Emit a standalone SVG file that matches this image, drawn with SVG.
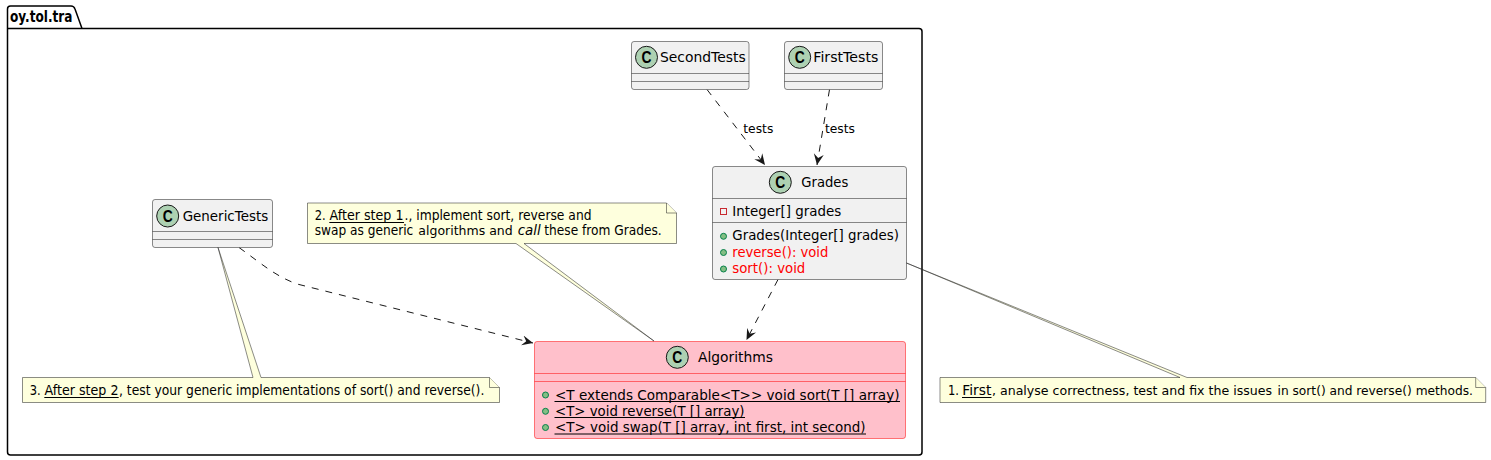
<svg xmlns="http://www.w3.org/2000/svg" width="1491" height="460" viewBox="0 0 1491 460">
<style>
text{font-family:"DejaVu Sans","Liberation Sans",sans-serif;font-size:14px;fill:#000}
.box{fill:#F1F1F1;stroke:#181818;stroke-width:.5}
.pink{fill:#FFC0CB;stroke:#FF0000}
.sep{stroke:#181818;stroke-width:.5;fill:none}
.sepr{stroke:#FF0000;stroke-width:.5;fill:none}
.ci{fill:#ADD1B2;stroke:#181818;stroke-width:1}
.c{font-family:"Liberation Sans",sans-serif;font-weight:700;font-size:16px;text-anchor:middle}
.pub{fill:#84BE84;stroke:#038048;stroke-width:1}
.note{fill:#FEFFDD;stroke:#181818;stroke-width:.5}
.dep{fill:none;stroke:#181818;stroke-width:1;stroke-dasharray:7 7;marker-end:url(#arrow)}
.red{fill:#FF0000}
.ul{stroke:#000;stroke-width:1;fill:none}
</style>
<defs>
<marker id="arrow" markerUnits="userSpaceOnUse" markerWidth="13" markerHeight="12" refX="11" refY="6" orient="auto">
<path d="M0,1 L11,6 L0,11 L4,6 Z" fill="#181818"/>
</marker>
</defs>
<g id="package">
<path d="M7.5,28.5 V9 Q7.5,6 10.5,6 H71 Q74,6 75,9 L82,28.5 M7.5,28.5 H919 Q922,28.5 922,31.5 V452 Q922,455 919,455 H10.5 Q7.5,455 7.5,452 V28.5" fill="none" stroke="#000" stroke-width="1.5"/>
<text x="10" y="22" style="font-weight:700;font-size:15px" textLength="62.5" lengthAdjust="spacingAndGlyphs">oy.tol.tra</text>
</g>
<g id="connectors">
<path class="dep" d="M707,89.5 L765,165"/>
<path class="dep" d="M829.5,89.5 L817,165"/>
<path class="dep" d="M778,279.5 L746.5,340"/>
<path class="dep" d="M239,247.5 C262,264 275,276 297,284 L533,343"/>
<text x="743.3" y="133" textLength="30" lengthAdjust="spacingAndGlyphs" style="font-size:13px">tests</text>
<text x="825" y="133" textLength="30" lengthAdjust="spacingAndGlyphs" style="font-size:13px">tests</text>
</g>
<g id="SecondTests">
<rect class="box" x="631.5" y="41.5" width="117.5" height="48" rx="2.5"/>
<path class="sep" d="M631.5,73.5 H749 M631.5,81.5 H749"/>
<circle class="ci" cx="646.5" cy="57.3" r="11"/><text class="c" x="646.5" y="63" textLength="10" lengthAdjust="spacingAndGlyphs">C</text>
<text x="660" y="62" textLength="85.7" lengthAdjust="spacingAndGlyphs">SecondTests</text>
</g>
<g id="FirstTests">
<rect class="box" x="784.5" y="41.5" width="98" height="48" rx="2.5"/>
<path class="sep" d="M784.5,73.5 H882.5 M784.5,81.5 H882.5"/>
<circle class="ci" cx="799.7" cy="57.3" r="11"/><text class="c" x="799.7" y="63" textLength="10" lengthAdjust="spacingAndGlyphs">C</text>
<text x="813.3" y="62" textLength="65" lengthAdjust="spacingAndGlyphs">FirstTests</text>
</g>
<g id="GenericTests">
<rect class="box" x="152.5" y="199.5" width="120" height="48" rx="2.5"/>
<path class="sep" d="M152.5,231.5 H272.5 M152.5,239.5 H272.5"/>
<circle class="ci" cx="167.7" cy="216" r="11"/><text class="c" x="167.7" y="221.7" textLength="10" lengthAdjust="spacingAndGlyphs">C</text>
<text x="182.7" y="220.5" textLength="85.5" lengthAdjust="spacingAndGlyphs">GenericTests</text>
</g>
<g id="Grades">
<rect class="box" x="712.5" y="166.5" width="194" height="113" rx="2.5"/>
<path class="sep" d="M712.5,198.5 H906.5 M712.5,222.5 H906.5"/>
<circle class="ci" cx="780.3" cy="182.3" r="11"/><text class="c" x="780.3" y="188" textLength="10" lengthAdjust="spacingAndGlyphs">C</text>
<text x="801.3" y="187" textLength="47" lengthAdjust="spacingAndGlyphs">Grades</text>
<rect x="720.5" y="208.5" width="6" height="6" fill="none" stroke="#C82930" stroke-width="1"/>
<text x="732.3" y="215.7" textLength="109" lengthAdjust="spacingAndGlyphs">Integer[] grades</text>
<circle class="pub" cx="723.5" cy="236.3" r="3"/>
<text x="732.3" y="240" textLength="166.7" lengthAdjust="spacingAndGlyphs">Grades(Integer[] grades)</text>
<circle class="pub" cx="723.5" cy="252.5" r="3"/>
<text class="red" x="732.3" y="256.5" textLength="96" lengthAdjust="spacingAndGlyphs">reverse(): void</text>
<circle class="pub" cx="723.5" cy="269" r="3"/>
<text class="red" x="732.3" y="273" textLength="73" lengthAdjust="spacingAndGlyphs">sort(): void</text>
</g>
<g id="Algorithms">
<rect class="box pink" x="534.5" y="341.5" width="371" height="97" rx="2.5"/>
<path class="sepr" d="M534.5,373.5 H905.5 M534.5,381.5 H905.5"/>
<circle class="ci" cx="677.3" cy="357.3" r="11"/><text class="c" x="677.3" y="363" textLength="10" lengthAdjust="spacingAndGlyphs">C</text>
<text x="698" y="362" textLength="75" lengthAdjust="spacingAndGlyphs">Algorithms</text>
<circle class="pub" cx="545.5" cy="395" r="3"/>
<text x="555" y="399.5" textLength="344.5" lengthAdjust="spacingAndGlyphs">&lt;T extends Comparable&lt;T&gt;&gt; void sort(T [] array)</text>
<circle class="pub" cx="545.5" cy="411.3" r="3"/>
<text x="555" y="415.7" textLength="189.5" lengthAdjust="spacingAndGlyphs">&lt;T&gt; void reverse(T [] array)</text>
<circle class="pub" cx="545.5" cy="427.5" r="3"/>
<text x="555" y="432" textLength="310.5" lengthAdjust="spacingAndGlyphs">&lt;T&gt; void swap(T [] array, int first, int second)</text>
<path class="ul" d="M554.5,401.5 H900 M554.5,417.5 H745 M554.5,434 H866"/>
</g>
<g id="note1">
<path class="note" d="M940,377.5 H1180 L906.5,263 L1187,377.5 H1475.7 L1485.7,387.5 V402.5 H940 Z"/>
<path class="note" d="M1475.7,377.5 V387.5 H1485.7"/>
<text x="948" y="395" textLength="11" lengthAdjust="spacingAndGlyphs">1.</text>
<text x="962.3" y="395" textLength="29" lengthAdjust="spacingAndGlyphs">First</text>
<path class="ul" d="M962,397.5 H991.5"/>
<text x="992" y="395" textLength="280" lengthAdjust="spacingAndGlyphs" style="font-size:12.5px">, analyse correctness, test and fix the issues</text>
<text x="1277.5" y="395" textLength="195.5" lengthAdjust="spacingAndGlyphs" style="font-size:12.5px">in sort() and reverse() methods.</text>
</g>
<g id="note2">
<path class="note" d="M307.5,203 H666.5 L676.5,213 V243.5 H524 L654,341 L516,243.5 H307.5 Z"/>
<path class="note" d="M666.5,203 V213 H676.5"/>
<text x="314.7" y="220" textLength="11" lengthAdjust="spacingAndGlyphs">2.</text>
<text x="329.5" y="220" textLength="74" lengthAdjust="spacingAndGlyphs">After step 1</text>
<path class="ul" d="M329.3,222.5 H404"/>
<text x="404.5" y="220" textLength="187" lengthAdjust="spacingAndGlyphs">., implement sort, reverse and</text>
<text x="314.7" y="235" textLength="98.6" lengthAdjust="spacingAndGlyphs">swap as generic</text>
<text x="418.3" y="235" textLength="94.4" lengthAdjust="spacingAndGlyphs" style="font-size:13px">algorithms and</text>
<text x="517.7" y="235" textLength="23" lengthAdjust="spacingAndGlyphs" font-style="italic">call</text>
<text x="544.3" y="235" textLength="117.4" lengthAdjust="spacingAndGlyphs">these from Grades.</text>
</g>
<g id="note3">
<path class="note" d="M22.5,377.5 H253 L218,247.5 L261,377.5 H489.5 L499.5,387.5 V402.5 H22.5 Z"/>
<path class="note" d="M489.5,377.5 V387.5 H499.5"/>
<text x="29.7" y="395" textLength="11" lengthAdjust="spacingAndGlyphs">3.</text>
<text x="44.5" y="395" textLength="74" lengthAdjust="spacingAndGlyphs">After step 2</text>
<path class="ul" d="M44.3,397.5 H118.7"/>
<text x="119" y="395" textLength="365.3" lengthAdjust="spacingAndGlyphs">, test your generic implementations of sort() and reverse().</text>
</g>
</svg>
